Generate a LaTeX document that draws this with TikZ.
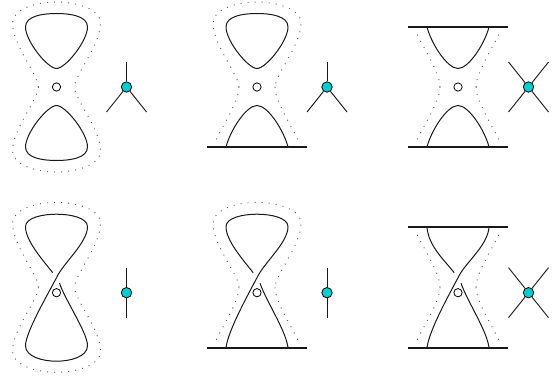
\documentclass[tikz,border=0pt]{standalone}
\usepackage{tikz}
\usetikzlibrary{positioning, calc}
\definecolor{vertcyan}{RGB}{0,205,205}

\tikzset{
  curve/.style = {line width=0.75pt, black!90},
  bar/.style   = {line width=1.5pt, black!90},
  halo/.style  = {line width=0.7pt, black!65, dash pattern=on 0.7pt off 4.6pt},
  hole/.style  = {draw, circle, line width=0.6pt, fill=white, inner sep=0pt, minimum size=6.2pt},
  vert/.style  = {draw, circle, line width=0.6pt, fill=vertcyan, inner sep=0pt, minimum size=7.8pt},
  leg/.style   = {line width=0.7pt, black!90},
  hy/.style    = {yscale=-1},
  % closed lobes, relative to a hole centre
  lobeup/.pic   = {\draw[curve] (0,18.5) .. controls (-9,18.5) and (-31,46) .. (-31,60)
                     .. controls (-31,71) and (-14,73.5) .. (0,73.5)
                     .. controls (14,73.5) and (31,71) .. (31,60)
                     .. controls (31,46) and (9,18.5) .. (0,18.5);},
  lobedown/.pic = {\draw[curve] (0,-18.5) .. controls (-9,-18.5) and (-31,-46) .. (-31,-60)
                     .. controls (-31,-71) and (-14,-73.5) .. (0,-73.5)
                     .. controls (14,-73.5) and (31,-71) .. (31,-60)
                     .. controls (31,-46) and (9,-18.5) .. (0,-18.5);},
  % lobes cut by a bar
  capup/.pic    = {\draw[curve] (-31,60) .. controls (-27,44) and (-11,18.5) .. (0,18.5)
                     .. controls (11,18.5) and (27,44) .. (31,60);},
  capdown/.pic  = {\draw[curve] (-31,-60) .. controls (-27,-44) and (-11,-18.5) .. (0,-18.5)
                     .. controls (11,-18.5) and (27,-44) .. (31,-60);},
  % halos round the lobes
  haloup/.pic   = {\draw[halo] (-18,0) .. controls (-18,12) and (-44,42) .. (-44,64)
                     .. controls (-44,78) and (-20,85) .. (0,85)
                     .. controls (20,85) and (44,78) .. (44,64)
                     .. controls (44,42) and (18,12) .. (18,0);},
  halodown/.pic = {\draw[halo] (-18,0) .. controls (-18,-12) and (-44,-42) .. (-44,-64)
                     .. controls (-44,-78) and (-20,-85) .. (0,-85)
                     .. controls (20,-85) and (44,-78) .. (44,-64)
                     .. controls (44,-42) and (18,-12) .. (18,0);},
  haloopenup/.pic   = {\draw[halo] (-18,0) .. controls (-18,14) and (-34,38) .. (-43,57);
                       \draw[halo] (18,0) .. controls (18,14) and (34,38) .. (43,57);},
  haloopendown/.pic = {\draw[halo] (-18,0) .. controls (-18,-14) and (-34,-38) .. (-43,-57);
                       \draw[halo] (18,0) .. controls (18,-14) and (34,-38) .. (43,-57);},
  % twisted strands
  twistup/.pic   = {\draw[curve] (-3.8,20) .. controls (-14,33) and (-31,52) .. (-31,66)
                     .. controls (-31,75) and (-14,78.5) .. (0,78.5)
                     .. controls (14,78.5) and (31,75) .. (31,66)
                     .. controls (31,50) and (7,30) .. (0,15);},
  twistopenup/.pic = {\draw[curve] (-3.8,20) .. controls (-14,33) and (-29,46) .. (-31,65);
                     \draw[curve] (31,65) .. controls (29,46) and (7,30) .. (0,15);},
  twistdown/.pic = {\draw[curve] (0,15) .. controls (-9,-2) and (-31,-40) .. (-31,-53)
                     .. controls (-31,-64) and (-14,-68.5) .. (0,-68.5)
                     .. controls (14,-68.5) and (31,-64) .. (31,-53)
                     .. controls (31,-40) and (9,-8) .. (3,9.5);},
  twistopendown/.pic = {\draw[curve] (0,15) .. controls (-9,-2) and (-29,-38) .. (-31,-55);
                     \draw[curve] (31,-55) .. controls (29,-38) and (9,-8) .. (3,9.5);},
}

\begin{document}
\begin{tikzpicture}[x=0.75pt, y=-0.75pt]
  \useasboundingbox (0,0) rectangle (559,381);

  % holes
  \node[hole] (hA) at (56.5,87)    {};
  \node[hole] (hB) at (257,87)     {};
  \node[hole] (hC) at (458,87)     {};
  \node[hole] (hD) at (56.5,292.7) {};
  \node[hole] (hE) at (257,292.7)  {};
  \node[hole] (hF) at (458,292.7)  {};
  % halo centres of the second row sit above the holes
  \coordinate (gD) at (56.5,287.3);
  \coordinate (gE) at (257,287.3);
  \coordinate (gF) at (458,287.3);

  % first row
  \pic[hy] at (hA.center) {lobeup};
  \pic[hy] at (hA.center) {lobedown};
  \pic[hy] at (hA.center) {haloup};
  \pic[hy] at (hA.center) {halodown};

  \pic[hy] at (hB.center) {lobeup};
  \pic[hy] at (hB.center) {capdown};
  \pic[hy] at (hB.center) {haloup};
  \pic[hy] at (hB.center) {haloopendown};

  \pic[hy] at (hC.center) {capup};
  \pic[hy] at (hC.center) {capdown};
  \pic[hy] at (hC.center) {haloopenup};
  \pic[hy] at (hC.center) {haloopendown};

  % second row
  \pic[hy] at (hD.center) {twistup};
  \pic[hy] at (hD.center) {twistdown};
  \pic[hy] at (gD) {haloup};
  \pic[hy] at (gD) {halodown};

  \pic[hy] at (hE.center) {twistup};
  \pic[hy] at (hE.center) {twistopendown};
  \pic[hy] at (gE) {haloup};
  \pic[hy] at (gE) {haloopendown};

  \pic[hy] at (hF.center) {twistopenup};
  \pic[hy] at (hF.center) {twistopendown};
  \pic[hy] at (gF) {haloopenup};
  \pic[hy] at (gF) {haloopendown};

  % bars
  \coordinate (bBl) at (207,147);   \coordinate (bBr) at (307,147);
  \coordinate (tCl) at (408,27);    \coordinate (tCr) at (508,27);
  \coordinate (bCl) at (408,147);   \coordinate (bCr) at (508,147);
  \coordinate (bEl) at (207,347.7); \coordinate (bEr) at (307,347.7);
  \coordinate (tFl) at (408,227.3); \coordinate (tFr) at (508,227.3);
  \coordinate (bFl) at (408,347.7); \coordinate (bFr) at (508,347.7);
  \draw[bar] (bBl) -- (bBr);
  \draw[bar] (tCl) -- (tCr);
  \draw[bar] (bCl) -- (bCr);
  \draw[bar] (bEl) -- (bEr);
  \draw[bar] (tFl) -- (tFr);
  \draw[bar] (bFl) -- (bFr);

  % vertices
  \node[vert] (vA) at (126.5,87)    {};
  \node[vert] (vB) at (327,87)      {};
  \node[vert] (vC) at (528.5,87)    {};
  \node[vert] (vD) at (126.5,292.7) {};
  \node[vert] (vE) at (327,292.7)   {};
  \node[vert] (vF) at (528.5,292.7) {};

  \foreach \v in {vA,vB}{
    \draw[leg] (\v) -- ($(\v.center)+(0,-25)$);
    \draw[leg] (\v) -- ($(\v.center)+(-20,25)$);
    \draw[leg] (\v) -- ($(\v.center)+(20,25)$);
  }
  \foreach \v in {vD,vE}{
    \draw[leg] (\v) -- ($(\v.center)+(0,-25)$);
    \draw[leg] (\v) -- ($(\v.center)+(0,25)$);
  }
  \foreach \v in {vC,vF}{
    \draw[leg] (\v) -- ($(\v.center)+(-20,-25)$);
    \draw[leg] (\v) -- ($(\v.center)+(20,-25)$);
    \draw[leg] (\v) -- ($(\v.center)+(-20,25)$);
    \draw[leg] (\v) -- ($(\v.center)+(20,25)$);
  }
\end{tikzpicture}
\end{document}
